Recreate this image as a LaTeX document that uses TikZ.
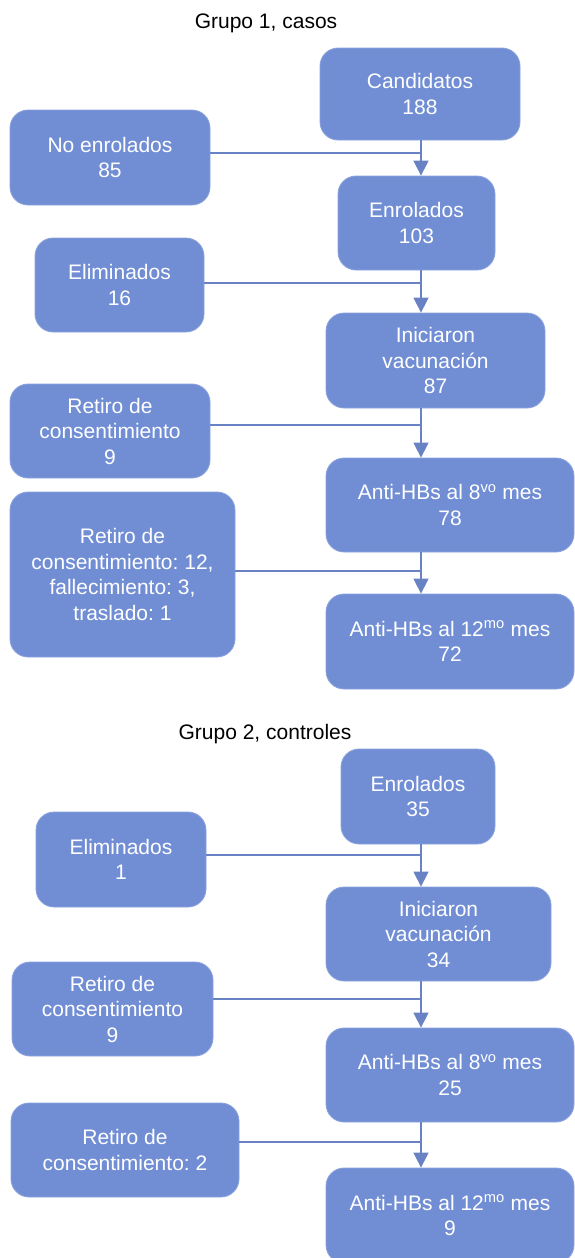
\documentclass[tikz,border=0pt]{standalone}
\usepackage{fontspec}
\setmainfont{Liberation Sans}
\frenchspacing
\usetikzlibrary{arrows.meta}
\definecolor{azul}{RGB}{113,142,213}
\definecolor{borde}{RGB}{140,162,220}
\definecolor{linea}{RGB}{104,130,196}
\tikzset{
    caja/.style={draw=borde, line width=0.8pt, fill=azul, text=white, rounded corners=18pt,
        align=center, inner sep=0pt, font=\fontsize{21}{25.5}\selectfont},
    titulo/.style={font=\fontsize{21}{25.5}\selectfont},
    conector/.style={draw=linea, line width=1.4pt},
    flecha/.style={conector, -{Triangle[length=15pt,width=15pt]}}
}
\begin{document}
\begin{tikzpicture}[x=1pt, y=-1pt]
        \useasboundingbox (0,0) rectangle (574,1258);
        \coordinate (eje) at (421,0);

        % Grupo 1
        \node[titulo] (tit1) at (266,23) {Grupo 1, casos};
        \node[caja, minimum width=200pt, minimum height=92pt] (cand) at (420,94) {Candidatos\\188};
        \node[caja, minimum width=200pt, minimum height=95pt] (noenr) at (110,157.5) {No enrolados\\85};
        \node[caja, minimum width=157pt, minimum height=94pt] (enr) at (416.5,223) {Enrolados\\103};
        \node[caja, minimum width=169pt, minimum height=94pt] (elim) at (119.5,285) {Eliminados\\16};
        \node[caja, minimum width=219pt, minimum height=95pt] (inic) at (435.5,360.5) {Iniciaron\\vacunación\\87};
        \node[caja, minimum width=200pt, minimum height=94pt] (ret) at (110,431) {Retiro de\\consentimiento\\9};
        \node[caja, minimum width=248pt, minimum height=94pt] (ocho) at (450,505) {Anti-HBs al 8\textsuperscript{vo} mes\\78};
        \node[caja, minimum width=225pt, minimum height=165pt] (retb) at (122.5,574.5) {Retiro de\\consentimiento: 12,\\fallecimiento: 3,\\traslado: 1};
        \node[caja, minimum width=248pt, minimum height=95pt] (doce) at (450,641.5) {Anti-HBs al 12\textsuperscript{mo} mes\\72};

        % Grupo 2
        \node[titulo] (tit2) at (265,734) {Grupo 2, controles};
        \node[caja, minimum width=154pt, minimum height=95pt] (enrc) at (418,796.5) {Enrolados\\35};
        \node[caja, minimum width=170pt, minimum height=95pt] (elimc) at (121,859.5) {Eliminados\\1};
        \node[caja, minimum width=225pt, minimum height=94pt] (inicc) at (438.5,934) {Iniciaron\\vacunación\\34};
        \node[caja, minimum width=201pt, minimum height=94pt] (retc) at (112.5,1009) {Retiro de\\consentimiento\\9};
        \node[caja, minimum width=248pt, minimum height=94pt] (ochoc) at (450,1075) {Anti-HBs al 8\textsuperscript{vo} mes\\25};
        \node[caja, minimum width=228pt, minimum height=94pt] (retd) at (125,1150) {Retiro de\\consentimiento: 2};
        \node[caja, minimum width=248pt, minimum height=95pt] (docec) at (450,1215.5) {Anti-HBs al 12\textsuperscript{mo} mes\\9};

        % Flechas
        \foreach \a/\b in {cand/enr, enr/inic, inic/ocho, ocho/doce, enrc/inicc, inicc/ochoc, ochoc/docec}
            \draw[flecha] (\a.south -| eje) -- (\b.north -| eje);
        % Salidas
        \foreach \n/\y in {noenr/153, elim/283, ret/425, retb/571, elimc/855, retc/999, retd/1142}
            \draw[conector] (\n.east |- 0,\y) -- (eje |- 0,\y);
    \end{tikzpicture}
\end{document}
